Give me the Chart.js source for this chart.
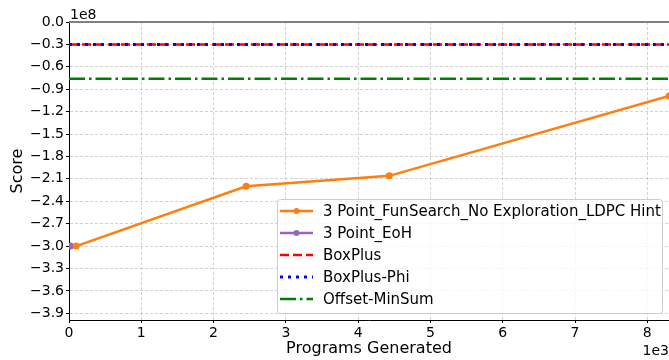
<!DOCTYPE html>
<html>
<head>
<meta charset="utf-8">
<script src="https://cdn.jsdelivr.net/npm/chart.js@4.4.0/dist/chart.umd.min.js"></script>
<style>
html, body { margin: 0; padding: 0; background: #fff; }
#wrap { width: 669px; height: 360px; }
</style>
</head>
<body>
<div id="wrap"><canvas id="chart1" width="669" height="360"></canvas></div>
<script>
// data
const funSearchX = [100, 2450, 4430, 8300];
const funSearchY = [-3.0e8, -2.2e8, -2.06e8, -0.99e8];
const eohX = [20];
const eohY = [-3.0e8];
const boxPlus = -0.3e8;
const boxPlusPhi = -0.3e8;
const offsetMinSum = -0.76e8;

const xTicks = [0, 1000, 2000, 3000, 4000, 5000, 6000, 7000, 8000];
const yTicks = [0, -0.3e8, -0.6e8, -0.9e8, -1.2e8, -1.5e8, -1.8e8, -2.1e8, -2.4e8, -2.7e8, -3.0e8, -3.3e8, -3.6e8, -3.9e8];
const xRange = [0, 8300];
const yRange = [-3.99e8, 0];

const FONT = "'DejaVu Sans', sans-serif";

function pts(xs, ys) {
    return xs.map((x, i) => ({ x: x, y: ys[i] }));
}
function hline(v) {
    return [{ x: xRange[0], y: v }, { x: xRange[1], y: v }];
}

const extras = {
    id: 'extras',
    beforeDatasetsDraw(chart) {
        const ctx = chart.ctx;
        const a = chart.chartArea;
        const y0 = chart.scales.y.getPixelForValue(0);
        ctx.save();
        ctx.strokeStyle = '#808080';
        ctx.lineWidth = 2;
        ctx.beginPath();
        ctx.moveTo(a.left, y0);
        ctx.lineTo(a.right, y0);
        ctx.stroke();
        ctx.restore();
    },
    afterDraw(chart) {
        const ctx = chart.ctx;
        const a = chart.chartArea;
        ctx.save();
        ctx.fillStyle = '#000';
        ctx.font = '14px ' + FONT;
        ctx.textBaseline = 'alphabetic';
        ctx.textAlign = 'left';
        ctx.fillText('1e8', a.left + 1, a.top - 3);
        ctx.textAlign = 'right';
        ctx.fillText('1e3', 669, 355);

        // legend, lower right inside the plot
        const w = 385, h = 114;
        const bx = a.right - 7 - w, by = a.bottom - 7 - h;
        ctx.fillStyle = 'rgba(255,255,255,0.8)';
        ctx.strokeStyle = '#cccccc';
        ctx.lineWidth = 1;
        ctx.beginPath();
        if (ctx.roundRect) ctx.roundRect(bx + 0.5, by + 0.5, w, h, 3);
        else ctx.rect(bx + 0.5, by + 0.5, w, h);
        ctx.fill();
        ctx.stroke();

        ctx.font = '15px ' + FONT;
        ctx.textAlign = 'left';
        ctx.textBaseline = 'middle';
        chart.data.datasets.forEach((ds, i) => {
            const cy = by + 12 + i * 22;
            ctx.save();
            ctx.setLineDash(ds.borderDash || []);
            ctx.strokeStyle = ds.borderColor;
            ctx.lineWidth = ds.borderWidth;
            ctx.beginPath();
            ctx.moveTo(bx + 3, cy);
            ctx.lineTo(bx + 36, cy);
            ctx.stroke();
            ctx.restore();
            if (ds.pointRadius > 0) {
                ctx.fillStyle = ds.borderColor;
                ctx.beginPath();
                ctx.arc(bx + 19.5, cy, 3, 0, Math.PI * 2);
                ctx.fill();
            }
            ctx.fillStyle = '#000';
            ctx.fillText(ds.label, bx + 46, cy + 1);
        });
        ctx.restore();
    }
};

const ctx1 = document.getElementById('chart1').getContext('2d');
const chart1 = new Chart(ctx1, {
    type: 'line',
    data: {
        datasets: [{
            label: '3 Point_FunSearch_No Exploration_LDPC Hint',
            data: pts(funSearchX, funSearchY),
            borderColor: '#ff7f0e',
            backgroundColor: '#ff7f0e',
            borderWidth: 2.5,
            pointRadius: 3.5,
            pointBorderWidth: 0,
            pointHoverRadius: 3.5,
            order: 5
        }, {
            label: '3 Point_EoH',
            data: pts(eohX, eohY),
            borderColor: '#9467bd',
            backgroundColor: '#9467bd',
            borderWidth: 2.5,
            pointRadius: 3.5,
            pointBorderWidth: 0,
            order: 6
        }, {
            label: 'BoxPlus',
            data: hline(boxPlus),
            borderColor: '#ff0000',
            borderWidth: 2.5,
            borderDash: [9, 4],
            pointRadius: 0,
            order: 3
        }, {
            label: 'BoxPlus-Phi',
            data: hline(boxPlusPhi),
            borderColor: '#0000ff',
            borderWidth: 3,
            borderDash: [3, 5],
            pointRadius: 0,
            order: 2
        }, {
            label: 'Offset-MinSum',
            data: hline(offsetMinSum),
            borderColor: '#008000',
            borderWidth: 2.5,
            borderDash: [16, 4, 2.5, 4],
            pointRadius: 0,
            order: 1
        }]
    },
    options: {
        responsive: false,
        animation: false,
        devicePixelRatio: 1,
        layout: { autoPadding: false, padding: { top: 22, right: 0, left: 0, bottom: 0 } },
        plugins: {
            legend: { display: false },
            tooltip: { enabled: false }
        },
        scales: {
            x: {
                type: 'linear',
                min: xRange[0],
                max: xRange[1],
                afterBuildTicks: (s) => { s.ticks = xTicks.map(v => ({ value: v })); },
                afterFit: (s) => { s.height = 40; s.paddingLeft = 0; s.paddingRight = 0; },
                ticks: {
                    callback: (v) => String(v / 1000),
                    color: '#000',
                    font: { family: FONT, size: 14 },
                    padding: 2,
                    maxRotation: 0,
                    autoSkip: false
                },
                grid: { color: 'rgba(176,176,176,0.7)', lineWidth: 0.8, tickLength: 3, tickColor: '#000', tickWidth: 1 },
                border: { color: '#000', width: 1, dash: [3, 2] },
                title: {
                    display: true,
                    text: 'Programs Generated',
                    color: '#000',
                    font: { family: FONT, size: 16 },
                    padding: { top: 0, bottom: 2 }
                }
            },
            y: {
                type: 'linear',
                min: yRange[0],
                max: yRange[1],
                afterBuildTicks: (s) => { s.ticks = yTicks.map(v => ({ value: v })); },
                afterFit: (s) => { s.width = 69; s.paddingTop = 0; s.paddingBottom = 0; },
                ticks: {
                    callback: (v) => (v / 1e8).toFixed(1).replace('-', '\u2212'),
                    color: '#000',
                    font: { family: FONT, size: 14 },
                    padding: 2,
                    autoSkip: false
                },
                grid: { color: 'rgba(176,176,176,0.7)', lineWidth: 0.8, tickLength: 3, tickColor: '#000', tickWidth: 1 },
                border: { color: '#000', width: 1, dash: [3, 2] },
                title: {
                    display: true,
                    text: 'Score',
                    color: '#000',
                    font: { family: FONT, size: 16 },
                    padding: { top: 8, bottom: 0 }
                }
            }
        }
    },
    plugins: [extras]
});
</script>
</body>
</html>
